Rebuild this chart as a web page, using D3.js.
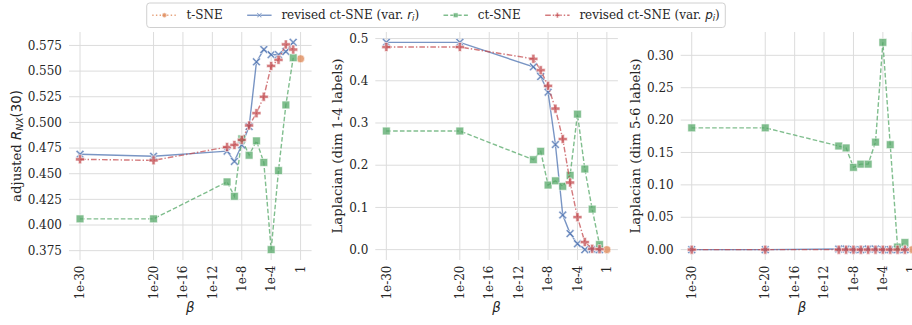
<!DOCTYPE html>
<html>
<head>
<meta charset="utf-8">
<script src="https://cdn.jsdelivr.net/npm/d3@7"></script>
<style>
  body { margin: 0; background: #fff; overflow: hidden; }
  svg { display: block; }
</style>
</head>
<body>
<svg id="chart" width="912" height="325"></svg>
<script>
// ---- data ---------------------------------------------------------------
const betas = [1e-30, 1e-20, 1e-10, 1e-9, 1e-8, 1e-7, 1e-6, 1e-5, 1e-4, 1e-3, 1e-2, 1e-1];
const tsneBeta = 1;

// adjusted R_NX(30)
const rnxRevisedR = [0.469, 0.467, 0.472, 0.462, 0.478, 0.496, 0.559, 0.571, 0.566, 0.566, 0.569, 0.578];
const rnxCtSne    = [0.406, 0.406, 0.442, 0.428, 0.484, 0.468, 0.482, 0.461, 0.376, 0.453, 0.517, 0.563];
const rnxRevisedP = [0.464, 0.463, 0.476, 0.478, 0.483, 0.497, 0.509, 0.525, 0.555, 0.561, 0.576, 0.571];
const rnxTsne     = 0.562;

// Laplacian, dims 1-4 labels
const lap14RevisedR = [0.491, 0.491, 0.433, 0.410, 0.373, 0.249, 0.082, 0.038, 0.014, 0.000, 0.001, 0.000];
const lap14CtSne    = [0.281, 0.281, 0.213, 0.233, 0.153, 0.163, 0.150, 0.176, 0.321, 0.191, 0.096, 0.012];
const lap14RevisedP = [0.480, 0.480, 0.452, 0.425, 0.388, 0.334, 0.262, 0.159, 0.077, 0.018, 0.002, 0.001];
const lap14Tsne     = 0.000;

// Laplacian, dims 5-6 labels
const lap56RevisedR = [0.000, 0.000, 0.001, 0.001, 0.000, 0.000, 0.001, 0.001, 0.000, 0.000, 0.000, 0.000];
const lap56CtSne    = [0.188, 0.188, 0.160, 0.157, 0.127, 0.132, 0.132, 0.166, 0.320, 0.162, 0.004, 0.011];
const lap56RevisedP = [0.000, 0.000, 0.000, 0.000, 0.000, 0.000, 0.000, 0.000, 0.000, 0.000, 0.000, 0.000];
const lap56Tsne     = 0.000;

const xTickValues = [1e-30, 1e-20, 1e-16, 1e-12, 1e-8, 1e-4, 1];
const xTickLabels = ["1e-30", "1e-20", "1e-16", "1e-12", "1e-8", "1e-4", "1"];

const yTicksRnx   = [0.375, 0.400, 0.425, 0.450, 0.475, 0.500, 0.525, 0.550, 0.575];
const yTicksLap14 = [0.0, 0.1, 0.2, 0.3, 0.4, 0.5];
const yTicksLap56 = [0.00, 0.05, 0.10, 0.15, 0.20, 0.25, 0.30];

// ---- styling --------------------------------------------------------------
const C = { tsne: "#dd8452", revR: "#4c72b0", ct: "#55a868", revP: "#c44e52" };
const ALPHA = 0.75;
const SERIF = "'DejaVu Serif', serif";
const SANS = "'DejaVu Sans', sans-serif";
const TEXT = "#262626";
const GRID = "#dcdcdc";

const svg = d3.select("#chart");
const plotTop = 32, plotBottom = 260, plotW = 242.6;
const panelLefts = [69, 375.3, 680.7];

// marker path generators (centered on 0,0)
function xMarker(s) {
  const a = s / 2, t = s * 0.17;
  // filled "X"
  const p = [[-a, -a + t], [-a + t, -a], [0, -t], [a - t, -a], [a, -a + t], [t, 0],
             [a, a - t], [a - t, a], [0, t], [-a + t, a], [-a, a - t], [-t, 0]];
  return "M" + p.map(d => d.join(",")).join("L") + "Z";
}
function plusMarker(s) {
  const a = s / 2, t = s * 0.18;
  const p = [[-t, -a], [t, -a], [t, -t], [a, -t], [a, t], [t, t], [t, a], [-t, a],
             [-t, t], [-a, t], [-a, -t], [-t, -t]];
  return "M" + p.map(d => d.join(",")).join("L") + "Z";
}
function squareMarker(s) {
  const a = s / 2;
  return `M${-a},${-a}H${a}V${a}H${-a}Z`;
}
function circleMarker(s) {
  const r = s / 2;
  return `M${r},0A${r},${r} 0 1,1 ${-r},0A${r},${r} 0 1,1 ${r},0Z`;
}

const seriesStyle = {
  revR: { color: C.revR, dash: null, marker: xMarker, size: 8.5 },
  ct:   { color: C.ct, dash: "4.6,2.2", marker: squareMarker, size: 7.8 },
  revP: { color: C.revP, dash: "5.6,2,1.4,2", marker: plusMarker, size: 9 },
  tsne: { color: C.tsne, dash: "1.4,2.3", marker: circleMarker, size: 8 }
};

const panels = [
  { label: "rnx", revR: rnxRevisedR, ct: rnxCtSne, revP: rnxRevisedP, tsne: rnxTsne,
    yTicks: yTicksRnx, fmt: d3.format(".3f") },
  { label: "lap14", revR: lap14RevisedR, ct: lap14CtSne, revP: lap14RevisedP, tsne: lap14Tsne,
    yTicks: yTicksLap14, fmt: d3.format(".1f") },
  { label: "lap56", revR: lap56RevisedR, ct: lap56CtSne, revP: lap56RevisedP, tsne: lap56Tsne,
    yTicks: yTicksLap56, fmt: d3.format(".2f") }
];

const yLabels = [
  [{ t: "adjusted ", f: SERIF }, { t: "R", f: SANS, i: true }, { t: "NX", f: SANS, i: true, sub: true }, { t: "(30)", f: SANS }],
  [{ t: "Laplacian (dim 1-4 labels)", f: SERIF }],
  [{ t: "Laplacian (dim 5-6 labels)", f: SERIF }]
];

function appendRich(textSel, parts, size) {
  parts.forEach(p => {
    const ts = textSel.append("tspan").text(p.t)
      .attr("font-family", p.f)
      .attr("font-style", p.i ? "italic" : "normal");
    if (p.sub) {
      ts.attr("font-size", size * 0.7).attr("baseline-shift", "-22%");
    }
  });
}

panels.forEach((pn, k) => {
  const left = panelLefts[k];
  const x = d3.scaleLog()
    .domain([Math.pow(10, -31.5), Math.pow(10, 1.5)])
    .range([left, left + plotW]);

  const allVals = [...pn.revR, ...pn.ct, ...pn.revP, pn.tsne];
  const [mn, mx] = d3.extent(allVals);
  const pad = (mx - mn) * 0.05;
  const y = d3.scaleLinear().domain([mn - pad, mx + pad]).range([plotBottom, plotTop]);

  const g = svg.append("g");

  // grid
  g.append("g").selectAll("line").data(pn.yTicks).join("line")
    .attr("x1", left).attr("x2", left + plotW)
    .attr("y1", d => y(d)).attr("y2", d => y(d))
    .attr("stroke", GRID).attr("stroke-width", 1);
  g.append("g").selectAll("line").data(xTickValues).join("line")
    .attr("x1", d => x(d)).attr("x2", d => x(d))
    .attr("y1", plotTop).attr("y2", plotBottom)
    .attr("stroke", GRID).attr("stroke-width", 1);

  // y tick labels
  const yt = g.append("g").selectAll("text").data(pn.yTicks).join("text")
    .attr("x", left - 7).attr("y", d => y(d)).attr("dy", "0.35em")
    .attr("text-anchor", "end")
    .attr("font-family", SERIF).attr("font-size", 12).attr("fill", TEXT)
    .text(d => pn.fmt(d));
  let maxW = 0;
  yt.each(function () { maxW = Math.max(maxW, this.getComputedTextLength()); });

  // x tick labels (rotated)
  g.append("g").selectAll("text").data(xTickValues).join("text")
    .attr("transform", d => `translate(${x(d)},${plotBottom + 5.5}) rotate(-90)`)
    .attr("dy", "0.35em")
    .attr("text-anchor", "end")
    .attr("font-family", SERIF).attr("font-size", 12).attr("fill", TEXT)
    .text((d, i) => xTickLabels[i]);

  // y label
  const ylx = left - 7 - maxW - 7;
  const yl = g.append("text")
    .attr("transform", `translate(${ylx},${(plotTop + plotBottom) / 2}) rotate(-90)`)
    .attr("text-anchor", "middle")
    .attr("font-size", 13.3).attr("fill", TEXT);
  appendRich(yl, yLabels[k], 13.3);

  // x label
  g.append("text")
    .attr("x", left + plotW / 2).attr("y", 312)
    .attr("text-anchor", "middle")
    .attr("font-family", SANS).attr("font-style", "italic")
    .attr("font-size", 13.3).attr("fill", TEXT)
    .text("β");

  // series (drawn in legend order)
  const drawSeries = (key, xs, vals) => {
    const st = seriesStyle[key];
    const pts = xs.map((b, i) => [x(b), y(vals[i])]);
    if (pts.length > 1) {
      g.append("path")
        .attr("d", d3.line()(pts))
        .attr("fill", "none")
        .attr("stroke", st.color).attr("stroke-opacity", ALPHA)
        .attr("stroke-width", 1.4)
        .attr("stroke-dasharray", st.dash);
    }
    g.append("g").selectAll("path").data(pts).join("path")
      .attr("transform", d => `translate(${d[0]},${d[1]})`)
      .attr("d", st.marker(st.size))
      .attr("fill", st.color).attr("fill-opacity", ALPHA)
      .attr("stroke", "#fff").attr("stroke-opacity", ALPHA).attr("stroke-width", 0.8);
  };
  drawSeries("tsne", [tsneBeta], [pn.tsne]);
  drawSeries("revR", betas, pn.revR);
  drawSeries("ct", betas, pn.ct);
  drawSeries("revP", betas, pn.revP);
});

// ---- legend -----------------------------------------------------------------
const legendItems = [
  { key: "tsne", parts: [{ t: "t-SNE", f: SERIF }] },
  { key: "revR", parts: [{ t: "revised ct-SNE (var. ", f: SERIF }, { t: "r", f: SANS, i: true }, { t: "i", f: SANS, i: true, sub: true }, { t: ")", f: SERIF }] },
  { key: "ct", parts: [{ t: "ct-SNE", f: SERIF }] },
  { key: "revP", parts: [{ t: "revised ct-SNE (var. ", f: SERIF }, { t: "p", f: SANS, i: true }, { t: "i", f: SANS, i: true, sub: true }, { t: ")", f: SERIF }] }
];
const LFS = 12;
const handleLen = 24.4, handlePad = 9.8, colSpace = 24.4, borderPad = 5.5;
const legendCenterX = 436, legendTop = 3, legendH = 24.5;
const midY = legendTop + legendH / 2;

const lg = svg.append("g");
const box = lg.append("rect");
const items = lg.selectAll("g.item").data(legendItems).join("g").attr("class", "item");
const widths = [];
items.each(function (d) {
  const t = d3.select(this).append("text")
    .attr("y", midY).attr("dy", "0.35em")
    .attr("font-size", LFS).attr("fill", TEXT);
  appendRich(t, d.parts, LFS);
  widths.push(t.node().getComputedTextLength());
});
const total = d3.sum(widths) + legendItems.length * (handleLen + handlePad) + (legendItems.length - 1) * colSpace;
const legendLeft = legendCenterX - total / 2 - borderPad;
box.attr("x", legendLeft).attr("y", legendTop)
  .attr("width", total + 2 * borderPad).attr("height", legendH)
  .attr("rx", 3)
  .attr("fill", "#fff").attr("fill-opacity", 0.8)
  .attr("stroke", "#d0d0d0").attr("stroke-width", 1);

let cx = legendLeft + borderPad;
items.each(function (d, i) {
  const st = seriesStyle[d.key];
  const gi = d3.select(this);
  gi.insert("line", "text")
    .attr("x1", cx).attr("x2", cx + handleLen).attr("y1", midY).attr("y2", midY)
    .attr("stroke", st.color).attr("stroke-opacity", ALPHA).attr("stroke-width", 1.4)
    .attr("stroke-dasharray", st.dash);
  gi.insert("path", "text")
    .attr("transform", `translate(${cx + handleLen / 2},${midY})`)
    .attr("d", st.marker(st.size * 0.6))
    .attr("fill", st.color).attr("fill-opacity", ALPHA)
    .attr("stroke", "#fff").attr("stroke-width", 0.5);
  gi.select("text").attr("x", cx + handleLen + handlePad);
  cx += handleLen + handlePad + widths[i] + colSpace;
});
</script>
</body>
</html>
